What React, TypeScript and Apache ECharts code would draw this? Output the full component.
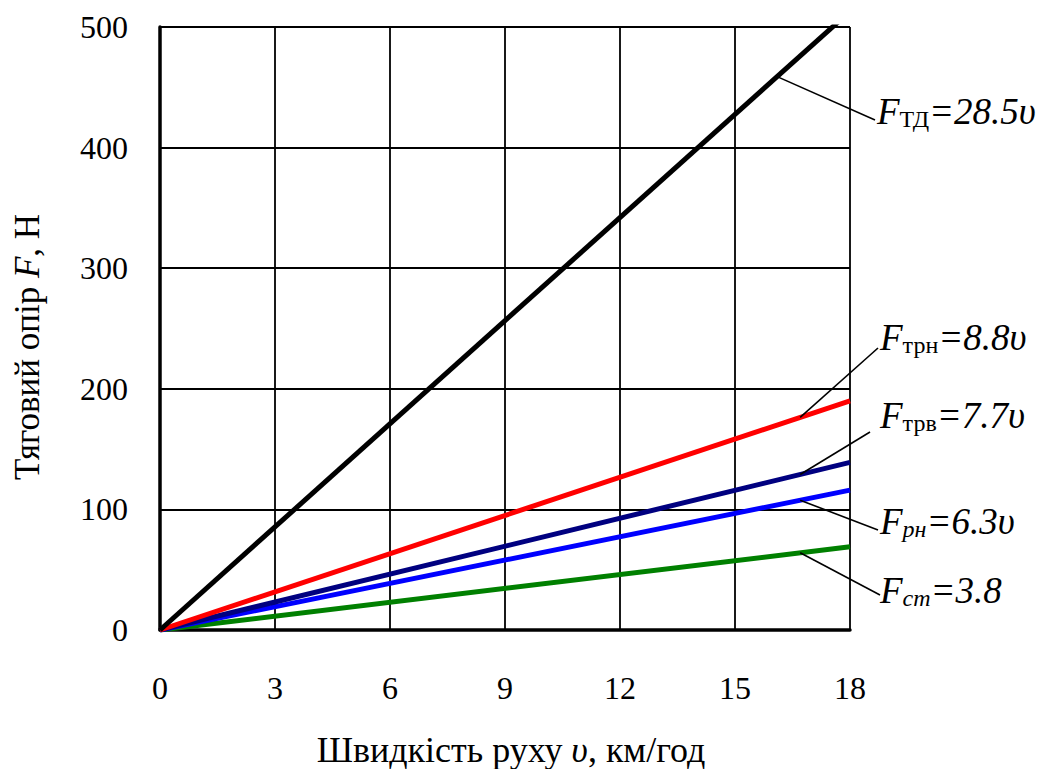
import React, { useEffect, useRef } from "react";
import * as echarts from "echarts";

const speed = [0, 18];
const fTd = [0, 513];
const fTrn = [0, 190];
const fTrv = [0, 139];
const fRn = [0, 116];
const fSt = [0, 69];

const seriesNames = ["Fтд", "Fтрн", "Fтрв", "Fрн", "Fст"];
const seriesValues = [fTd, fTrn, fTrv, fRn, fSt];
const seriesColors = ["#000000", "#ff0000", "#000080", "#0000ff", "#008000"];
const subTexts = ["ТД", "трн", "трв", "рн", "ст"];
const subItalic = [false, false, false, true, true];
const valueTexts = ["=28.5υ", "=8.8υ", "=7.7υ", "=6.3υ", "=3.8"];
const leaderV = [16.1, 16.7, 16.7, 16.7, 16.7];
// label annotation layout (pixels)
const labelPos = [
  [877, 111],
  [880, 337],
  [880, 415],
  [880, 521],
  [880, 590],
];
const leaderEnd = [
  [875, 120],
  [878, 348],
  [870, 432],
  [878, 530],
  [880, 595],
];

const FONT = "'Liberation Serif', 'Times New Roman', serif";

export default function App() {
  const ref = useRef<HTMLDivElement>(null);
  useEffect(() => {
    if (!ref.current) return;
    const chart = echarts.init(ref.current, undefined, { renderer: "svg" });
    const order = [4, 3, 2, 1, 0];
    chart.setOption({
      animation: false,
      backgroundColor: "#ffffff",
      grid: { left: 160, right: 193, top: 27, bottom: 139 },
      xAxis: {
        type: "value",
        min: 0,
        max: 18,
        interval: 3,
        axisLine: { show: true, onZero: false, lineStyle: { color: "#000", width: 3.5 } },
        axisTick: { show: false },
        splitLine: { show: true, lineStyle: { color: "#000", width: 1.8 } },
        axisLabel: { color: "#000", fontFamily: FONT, fontSize: 32, margin: 42 },
      },
      yAxis: {
        type: "value",
        min: 0,
        max: 500,
        interval: 100,
        axisLine: { show: true, lineStyle: { color: "#000", width: 3.5 } },
        axisTick: { show: false },
        splitLine: { show: true, lineStyle: { color: "#000", width: 1.8 } },
        axisLabel: { color: "#000", fontFamily: FONT, fontSize: 32, margin: 32 },
      },
      series: order.map((i) => ({
        name: seriesNames[i],
        type: "line",
        data: speed.map((v, k) => [v, seriesValues[i][k]]),
        symbol: "none",
        clip: true,
        lineStyle: { color: seriesColors[i], width: 5 },
        z: 3,
      })),
    });

    const graphics: any[] = [];
    for (let i = 0; i < seriesNames.length; i++) {
      const v = leaderV[i];
      const val = (seriesValues[i][1] * v) / speed[1];
      const p = chart.convertToPixel({ gridIndex: 0 }, [v, val]) as number[];
      graphics.push({
        type: "line",
        shape: { x1: p[0], y1: p[1], x2: leaderEnd[i][0], y2: leaderEnd[i][1] },
        style: { stroke: "#000", lineWidth: 1.6 },
        z: 10,
      });
      graphics.push({
        type: "text",
        x: labelPos[i][0],
        y: labelPos[i][1],
        style: {
          text: `{f|F}{s|${subTexts[i]}}{v|${valueTexts[i]}}`,
          verticalAlign: "middle",
          align: "left",
          fill: "#000",
          rich: {
            f: { fontFamily: FONT, fontStyle: "italic", fontSize: 37, lineHeight: 40, fill: "#000" },
            s: {
              fontFamily: FONT,
              fontStyle: subItalic[i] ? "italic" : "normal",
              fontSize: 24,
              lineHeight: 22,
              verticalAlign: "bottom",
              fill: "#000",
            },
            v: { fontFamily: FONT, fontStyle: "italic", fontSize: 37, lineHeight: 40, fill: "#000" },
          },
        },
        z: 10,
      });
    }
    graphics.push({
      type: "text",
      x: 511,
      y: 768,
      style: {
        text: "{a|Швидкість руху }{i|υ}{a|, км/год}",
        align: "center",
        verticalAlign: "bottom",
        rich: {
          a: { fontFamily: FONT, fontSize: 36, lineHeight: 36, fill: "#000" },
          i: { fontFamily: FONT, fontSize: 36, lineHeight: 36, fontStyle: "italic", fill: "#000" },
        },
      },
    });
    graphics.push({
      type: "text",
      x: 27,
      y: 347,
      rotation: Math.PI / 2,
      style: {
        text: "{a|Тяговий опір }{i|F}{a|, Н}",
        align: "center",
        verticalAlign: "middle",
        rich: {
          a: { fontFamily: FONT, fontSize: 35, fill: "#000" },
          i: { fontFamily: FONT, fontSize: 35, fontStyle: "italic", fill: "#000" },
        },
      },
    });
    chart.setOption({ graphic: graphics });

    return () => chart.dispose();
  }, []);
  return <div ref={ref} style={{ width: 1043, height: 769, position: "absolute", left: 0, top: 0 }} />;
}
